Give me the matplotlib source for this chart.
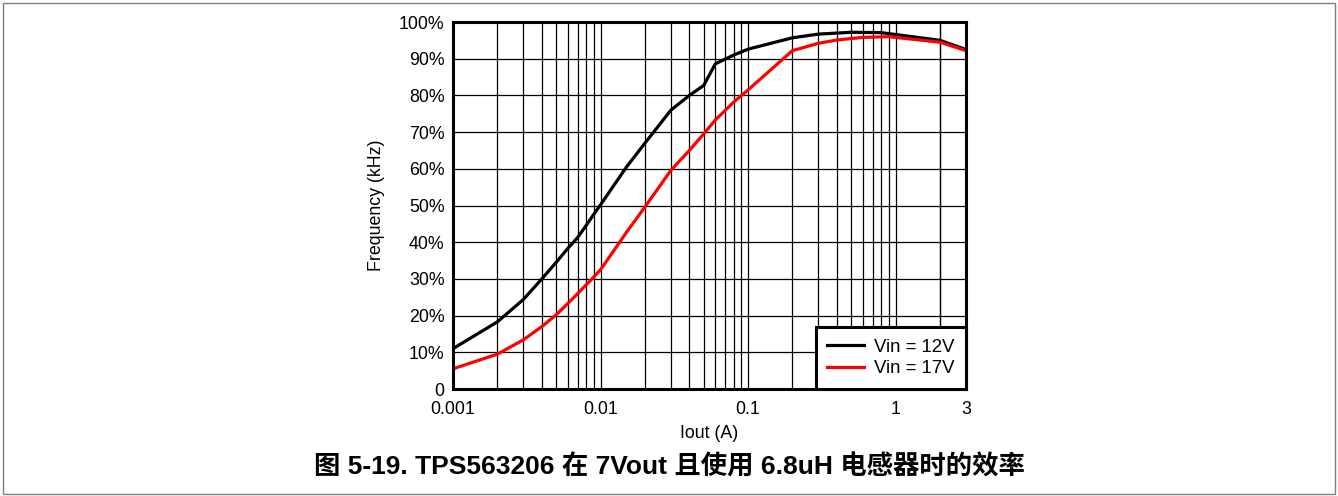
import matplotlib
matplotlib.use('Agg')
import matplotlib.pyplot as plt
from matplotlib.patches import Rectangle
from matplotlib.ticker import FixedLocator, NullFormatter

# data
iout_12v = [0.001, 0.002, 0.003, 0.004, 0.005, 0.006, 0.007, 0.008, 0.009, 0.01,
            0.015, 0.02, 0.03, 0.04, 0.05, 0.06, 0.08, 0.1, 0.2, 0.3, 0.5, 0.8, 2, 3]
eff_12v = [11.0, 18.3, 24.4, 30.0, 34.5, 38.3, 41.3, 44.6, 47.6, 50.2,
           60.5, 67.0, 76.0, 80.0, 82.7, 88.6, 91.0, 92.6, 95.7, 96.7, 97.2, 97.1, 95.0, 92.5]

iout_17v = [0.001, 0.002, 0.003, 0.004, 0.005, 0.006, 0.007, 0.008, 0.009, 0.01,
            0.015, 0.02, 0.03, 0.04, 0.05, 0.06, 0.08, 0.1, 0.2, 0.3, 0.4, 0.6, 0.9, 2, 3]
eff_17v = [5.5, 9.5, 13.4, 17.0, 20.2, 23.3, 26.0, 28.4, 30.5, 32.5,
           42.7, 49.6, 59.6, 65.0, 69.5, 73.3, 78.2, 81.5, 92.2, 94.2, 95.1, 95.8, 96.0, 94.5, 92.2]

x_ticks = [0.001, 0.01, 0.1, 1, 3]
x_tick_labels = ['0.001', '0.01', '0.1', '1', '3']
y_ticks = [0, 10, 20, 30, 40, 50, 60, 70, 80, 90, 100]
y_tick_labels = ['0'] + [f'{v}%' for v in y_ticks[1:]]

plt.rcParams['font.family'] = ['Liberation Sans', 'Noto Sans CJK SC', 'DejaVu Sans']

fig = plt.figure(figsize=(13.38, 4.96), dpi=100)
ax = fig.add_axes([453 / 1338, 107 / 496, 513 / 1338, 367 / 496])

ax.plot(iout_12v, eff_12v, color='black', linewidth=2.3, label='Vin = 12V')
ax.plot(iout_17v, eff_17v, color='#ff0000', linewidth=2.3, label='Vin = 17V')

ax.set_xscale('log')
ax.set_xlim(0.001, 3)
ax.set_ylim(0, 100)

# minor grid at every 1..9 step of each decade
minor = [m * 10.0 ** e for e in range(-3, 1) for m in range(2, 10)] + [2]
ax.xaxis.set_minor_locator(FixedLocator(minor))
ax.xaxis.set_minor_formatter(NullFormatter())
ax.set_xticks(x_ticks)
ax.set_xticklabels(x_tick_labels)
ax.set_yticks(y_ticks)
ax.set_yticklabels(y_tick_labels)

ax.grid(True, which='both', color='black', linewidth=0.9)
ax.tick_params(which='both', length=0, labelsize=12.8)
ax.tick_params(axis='x', pad=9)
ax.tick_params(axis='y', pad=6)

for spine in ax.spines.values():
    spine.set_linewidth(2.2)

ax.set_xlabel('Iout (A)', fontsize=12.8, labelpad=5)
ax.set_ylabel('Frequency (kHz)', fontsize=12.8, labelpad=10)

leg = ax.legend(loc='lower right', fontsize=13.4, frameon=True, fancybox=False,
                borderaxespad=0, handlelength=1.95, handletextpad=0.55,
                borderpad=0.62, labelspacing=0.25)
leg.get_frame().set_edgecolor('black')
leg.get_frame().set_linewidth(2.2)
leg.get_frame().set_alpha(1)

fig.text(0.5, (496 - 467) / 496, '图 5-19. TPS563206 在 7Vout 且使用 6.8uH 电感器时的效率',
         ha='center', va='center', fontsize=19, fontweight='bold')

fig.patches.append(Rectangle((3 / 1338, 2 / 496), 1332 / 1338, 491 / 496,
                             transform=fig.transFigure, fill=False,
                             edgecolor='#7f7f7f', linewidth=1))

fig.savefig('out.png', dpi=100)
